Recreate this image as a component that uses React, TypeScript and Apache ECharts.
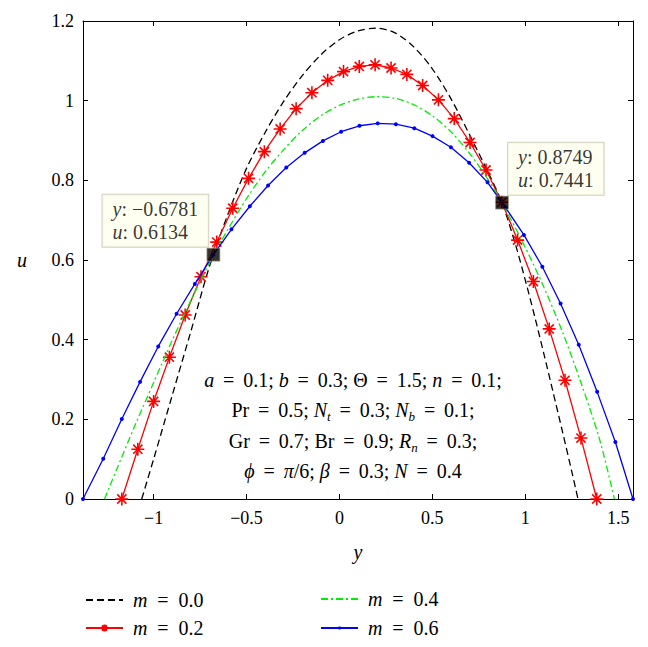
import React, { useEffect, useRef } from 'react';
import * as echarts from 'echarts';

const FONT = 'Liberation Serif';

// axis ticks
const xTicks = [-1, -0.5, 0, 0.5, 1, 1.5];
const xMin = -1.38;
const xMax = 1.58;

// series names
const names = ['m = 0.0', 'm = 0.2', 'm = 0.4', 'm = 0.6'];

// m = 0.0 (black dashed)
const m00X = [-1.064, -1.0, -0.9, -0.8, -0.7, -0.6, -0.5, -0.4, -0.3, -0.2, -0.1, 0.0, 0.1, 0.2, 0.3, 0.4, 0.5, 0.6, 0.7, 0.8, 0.875, 0.95, 1.0, 1.05, 1.1, 1.15, 1.2, 1.25, 1.284];
const m00U = [0, 0.10, 0.26, 0.42, 0.583, 0.715, 0.83, 0.92, 0.998, 1.063, 1.115, 1.153, 1.175, 1.182, 1.170, 1.135, 1.08, 1.005, 0.915, 0.82, 0.744, 0.635, 0.55, 0.46, 0.365, 0.268, 0.17, 0.07, 0];

// m = 0.2 (red, asterisks)
const m02X = [-1.171, -1.085, -1.0, -0.915, -0.830, -0.745, -0.660, -0.574, -0.489, -0.404, -0.319, -0.233, -0.148, -0.063, 0.022, 0.107, 0.192, 0.278, 0.363, 0.448, 0.533, 0.618, 0.703, 0.789, 0.874, 0.959, 1.044, 1.129, 1.214, 1.300, 1.385];
const m02U = [0, 0.125, 0.245, 0.356, 0.462, 0.558, 0.645, 0.730, 0.805, 0.872, 0.929, 0.980, 1.020, 1.051, 1.073, 1.086, 1.090, 1.082, 1.066, 1.038, 1.002, 0.955, 0.895, 0.826, 0.745, 0.650, 0.546, 0.427, 0.298, 0.153, 0];

// m = 0.4 (green dash-dot)
const m04X = [-1.264, -1.2, -1.1, -1.0, -0.9, -0.8, -0.7, -0.6, -0.5, -0.4, -0.3, -0.2, -0.1, 0.0, 0.1, 0.2, 0.3, 0.4, 0.5, 0.6, 0.7, 0.8, 0.9, 1.0, 1.1, 1.2, 1.3, 1.4, 1.48];
const m04U = [0, 0.073, 0.185, 0.292, 0.398, 0.498, 0.592, 0.677, 0.754, 0.821, 0.877, 0.925, 0.962, 0.988, 1.004, 1.010, 1.006, 0.99, 0.962, 0.922, 0.868, 0.802, 0.722, 0.632, 0.532, 0.42, 0.292, 0.15, 0];

// m = 0.6 (blue, dots)
const m06X = [-1.38, -1.271, -1.171, -1.073, -0.975, -0.876, -0.778, -0.679, -0.581, -0.482, -0.384, -0.286, -0.187, -0.089, 0.009, 0.108, 0.206, 0.304, 0.403, 0.501, 0.600, 0.698, 0.797, 0.895, 0.993, 1.092, 1.190, 1.288, 1.387, 1.485, 1.58];
const m06U = [0, 0.101, 0.201, 0.294, 0.383, 0.465, 0.540, 0.613, 0.677, 0.735, 0.787, 0.832, 0.869, 0.899, 0.922, 0.937, 0.943, 0.941, 0.931, 0.911, 0.883, 0.844, 0.795, 0.731, 0.663, 0.583, 0.491, 0.387, 0.269, 0.143, 0];

// data tips
const tipX = [-0.6781, 0.8749];
const tipU = [0.6134, 0.7441];

// parameter text lines
const paramLines = [
  '{i|a}{e|=}0.1; {i|b}{e|=}0.3; Θ{e|=}1.5; {i|n}{e|=}0.1;',
  'Pr{e|=}0.5; {i|N}{s|t}{e|=}0.3; {i|N}{s|b}{e|=}0.1;',
  'Gr{e|=}0.7; Br{e|=}0.9; {i|R}{s|n}{e|=}0.3;',
  '{i|ϕ}{e|=}{i|π}/6; {i|β}{e|=}0.3; {i|N}{e|=}0.4',
];

const zip = (xs: number[], ys: number[]) => xs.map((x, i) => [x, ys[i]]);
const minus = (s: string) => s.replace(/-/g, '\u2212');

const richBase = {
  i: { fontStyle: 'italic', fontFamily: FONT, fontSize: 20, lineHeight: 26, fill: '#000', color: '#000' },
  e: { width: 29, align: 'center', fontFamily: FONT, fontSize: 20, lineHeight: 26, color: '#000' },
  s: { fontStyle: 'italic', fontFamily: FONT, fontSize: 13, lineHeight: 13, verticalAlign: 'bottom', color: '#000' },
};

export default function App() {
  const ref = useRef<HTMLDivElement>(null);
  useEffect(() => {
    if (!ref.current) return;
    const chart = echarts.init(ref.current, undefined, { renderer: 'svg' });
    const star = 'path://M6 0L6 12M0 6L12 6M1.76 1.76L10.24 10.24M1.76 10.24L10.24 1.76';
    const tickCommon = { show: true, inside: true, length: 5, lineStyle: { color: '#000', width: 1 } };
    const lineCommon = { show: true, onZero: false, lineStyle: { color: '#000', width: 1 } };
    const legendText = {
      fontFamily: FONT, fontSize: 20, color: '#000', lineHeight: 22, padding: [0, 0, 0, 5],
      rich: {
        i: { fontStyle: 'italic', fontFamily: FONT, fontSize: 20, lineHeight: 22, color: '#000' },
        e: { width: 31, align: 'center', fontFamily: FONT, fontSize: 20, lineHeight: 22, color: '#000' },
      },
    };
    const legendFmt = (name: string) => `{i|m}{e|=}${name.split('= ')[1]}`;
    const legendPos = [
      { left: 85, top: 589, h: 14 },
      { left: 85, top: 617, h: 9 },
      { left: 320, top: 588, h: 14 },
      { left: 320, top: 617, h: 4 },
    ];
    const hideSym = [true, false, true, false];
    const option: any = {
      animation: false,
      backgroundColor: '#fff',
      grid: { left: 83, right: 15, top: 21, bottom: 148, containLabel: false, outerBoundsMode: 'none' },
      xAxis: [
        {
          type: 'value', min: xMin, max: xMax, position: 'bottom',
          axisLine: lineCommon,
          axisTick: { ...tickCommon, customValues: xTicks },
          axisLabel: {
            customValues: xTicks, margin: 10, fontFamily: FONT, fontSize: 18, color: '#000',
            formatter: (v: number) => minus(String(v)),
          },
          splitLine: { show: false },
          name: 'y', nameLocation: 'middle', nameGap: 43,
          nameTextStyle: { fontFamily: FONT, fontSize: 20, fontStyle: 'italic', color: '#000' },
        },
        {
          type: 'value', min: xMin, max: xMax, position: 'top',
          axisLine: lineCommon,
          axisTick: { ...tickCommon, customValues: xTicks },
          axisLabel: { show: false },
          splitLine: { show: false },
        },
      ],
      yAxis: [
        {
          type: 'value', min: 0, max: 1.2, interval: 0.2, position: 'left',
          axisLine: lineCommon,
          axisTick: tickCommon,
          axisLabel: { margin: 9, fontFamily: FONT, fontSize: 18, color: '#000' },
          splitLine: { show: false },
          name: 'u', nameLocation: 'middle', nameGap: 56, nameRotate: 0,
          nameTextStyle: { fontFamily: FONT, fontSize: 20, fontStyle: 'italic', color: '#000' },
        },
        {
          type: 'value', min: 0, max: 1.2, interval: 0.2, position: 'right',
          axisLine: lineCommon,
          axisTick: tickCommon,
          axisLabel: { show: false },
          splitLine: { show: false },
        },
      ],
      legend: names.map((n, k) => ({
        data: [hideSym[k] ? { name: n, itemStyle: { color: 'rgba(0,0,0,0)', borderWidth: 0, opacity: 0 } } : { name: n }],
        orient: 'horizontal', left: legendPos[k].left, top: legendPos[k].top, padding: 0,
        itemWidth: 37, itemHeight: legendPos[k].h, selectedMode: false, textStyle: legendText, formatter: legendFmt,
      })),
      series: [
        {
          name: names[0], type: 'line', data: zip(m00X, m00U), smooth: 0.3, symbol: 'none',
          lineStyle: { color: '#000', width: 1.3, type: [7, 4] }, itemStyle: { color: '#000' }, z: 2,
        },
        {
          name: names[1], type: 'line', data: zip(m02X, m02U), symbol: star, symbolSize: 13, showAllSymbol: true,
          lineStyle: { color: '#ff0000', width: 1.3 },
          itemStyle: { color: '#ff0000', borderColor: '#ff0000', borderWidth: 1.6 }, z: 3,
        },
        {
          name: names[2], type: 'line', data: zip(m04X, m04U), smooth: 0.3, symbol: 'none',
          lineStyle: { color: '#00ee00', width: 1.3, type: [7, 3, 2, 3] }, itemStyle: { color: '#00ee00' }, z: 4,
        },
        {
          name: names[3], type: 'line', data: zip(m06X, m06U), symbol: 'circle', symbolSize: 4, showAllSymbol: true,
          lineStyle: { color: '#0000ff', width: 1.3 }, itemStyle: { color: '#0000ff' }, z: 5,
        },
        {
          name: 'tips', type: 'scatter', symbol: 'rect', symbolSize: 13, z: 10,
          itemStyle: { color: '#000', borderColor: '#a89f80', borderWidth: 0.8 },
          data: [
            { value: [tipX[0], tipU[0]], label: { position: [-104, -53] } },
            { value: [tipX[1], tipU[1]], label: { position: [13, -53] } },
          ],
          label: {
            show: true,
            formatter: (p: any) => `{i|y}: ${minus(tipX[p.dataIndex].toFixed(4))}\n{i|u}: ${minus(tipU[p.dataIndex].toFixed(4))}`,
            backgroundColor: '#ffffee', borderColor: '#c8c6b0', borderWidth: 1, padding: [3, 10, 3, 10],
            fontFamily: FONT, fontSize: 20, lineHeight: 23, color: '#000',
            rich: { i: { fontStyle: 'italic', fontFamily: FONT, fontSize: 20, lineHeight: 23, color: '#000' } },
          },
        },
      ],
      graphic: paramLines.map((t, k) => ({
        type: 'text', x: 353, y: [380, 410, 441, 471][k], z: 20,
        style: {
          text: t, align: 'center', verticalAlign: 'middle', fontFamily: FONT, fontSize: 20, lineHeight: 26, fill: '#000',
          rich: richBase,
        },
      })),
    };
    chart.setOption(option);
    return () => chart.dispose();
  }, []);
  return <div ref={ref} style={{ position: 'fixed', left: 0, top: 0, width: 648, height: 647 }} />;
}
